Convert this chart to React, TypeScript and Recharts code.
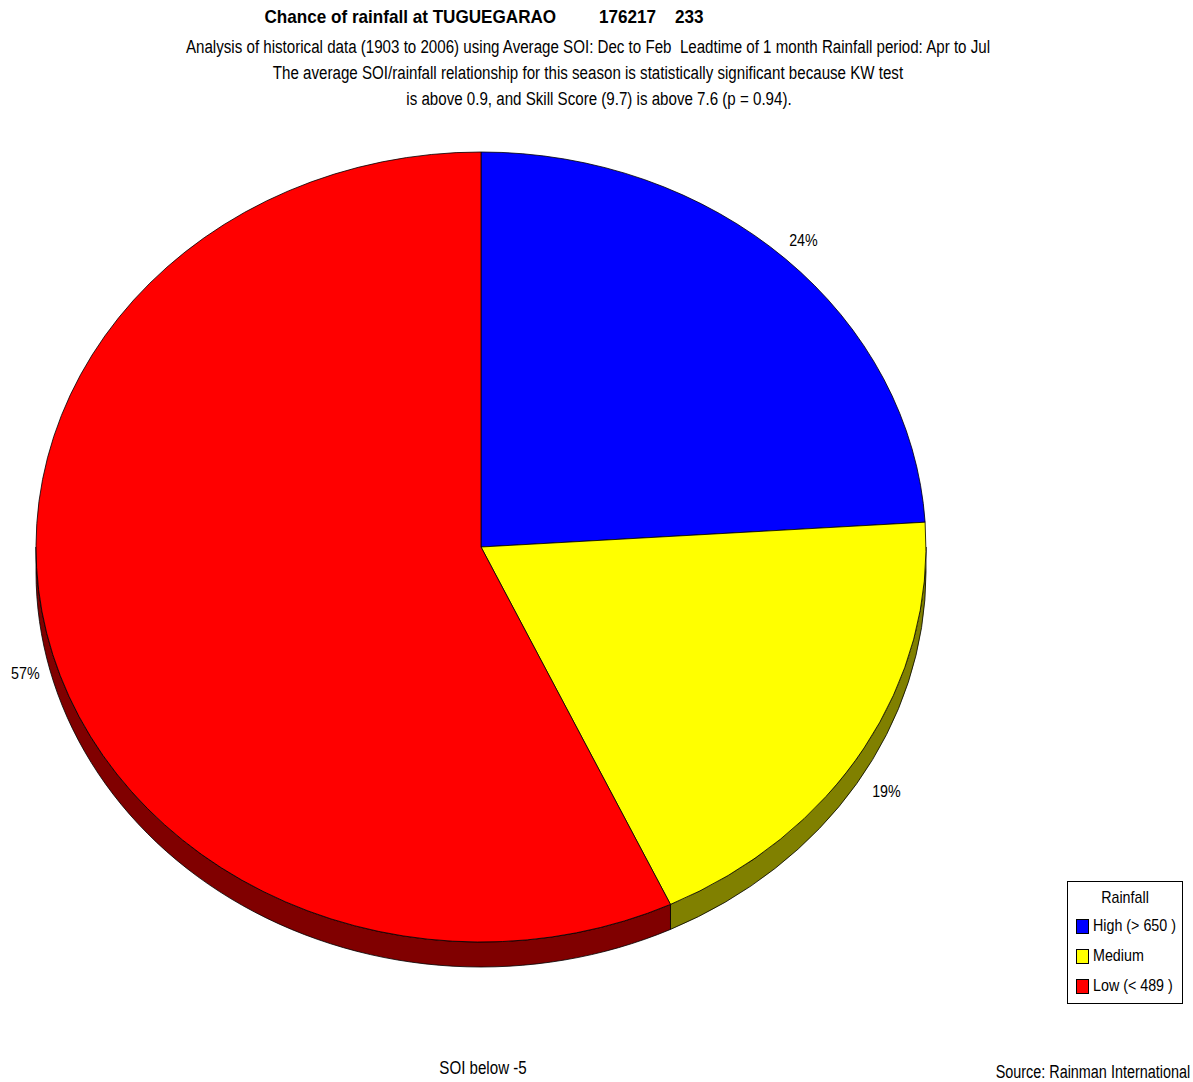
import { PieChart, Pie, Cell, Legend } from "recharts";

const categories = ["High (> 650 )", "Medium", "Low (< 489 )"];
const chances = [24, 19, 57];
const faceColors = ["#0000ff", "#ffff00", "#ff0000"];
const sideColors = ["#000080", "#808000", "#800000"];

const titleLine = "Chance of rainfall at TUGUEGARAO\u00a0\u00a0\u00a0\u00a0\u00a0\u00a0\u00a0\u00a0\u00a0176217\u00a0\u00a0\u00a0\u00a0233";
const subtitleLines = [
  "Analysis of historical data (1903 to 2006) using Average SOI: Dec to Feb  Leadtime of 1 month Rainfall period: Apr to Jul",
  "The average SOI/rainfall relationship for this season is statistically significant because KW test",
  "is above 0.9, and Skill Score (9.7) is above 7.6 (p = 0.94).",
];

const data = categories.map((name, i) => ({ name, value: chances[i] }));

const W = 1193;
const H = 1082;
const CX = 481;
const CY = 547;
const RY = 395;
const RX = 445;
const DEPTH = 25;
const FONT = "'Liberation Sans', Arial, sans-serif";
const NARROW = 0.84; // squeeze Liberation Sans towards Arial Narrow

const rad = (a: number) => (a * Math.PI) / 180;
const pt = (cx: number, cy: number, a: number) => [cx + RX * Math.cos(rad(a)), cy - RY * Math.sin(rad(a))];

// flat elliptical slice
function FaceSector(props: any) {
  const { cx, cy, startAngle, endAngle, fill } = props;
  const [x1, y1] = pt(cx, cy, startAngle);
  const [x2, y2] = pt(cx, cy, endAngle);
  const large = Math.abs(endAngle - startAngle) > 180 ? 1 : 0;
  const d = `M${cx},${cy} L${x1},${y1} A${RX},${RY} 0 ${large} 1 ${x2},${y2} Z`;
  return <path d={d} fill={fill} stroke="#000" strokeWidth={0.8} />;
}

// wall of the slice, only the part on the front (lower) half
function SideSector(props: any) {
  const { cx, cy, startAngle, endAngle, fill } = props;
  const a1 = Math.min(startAngle, 0);
  const a2 = Math.max(endAngle, -180);
  if (a1 <= a2) return <g />;
  const [x1, y1] = pt(cx, cy, a1);
  const [x2, y2] = pt(cx, cy, a2);
  const large = a1 - a2 > 180 ? 1 : 0;
  const d = `M${x1},${y1} A${RX},${RY} 0 ${large} 1 ${x2},${y2} L${x2},${y2 + DEPTH} A${RX},${RY} 0 ${large} 0 ${x1},${y1 + DEPTH} Z`;
  return <path d={d} fill={fill} stroke="#000" strokeWidth={0.8} />;
}

function SliceLabel(props: any) {
  const { cx, cy, midAngle, value } = props;
  const s = Math.sin(rad(midAngle));
  const c = Math.cos(rad(midAngle));
  const x = cx + (RX + 26) * c + (c < -0.9 ? 4 : 0);
  const y = cy - (RY + 26) * s + (s < 0 ? 30 : 0) + (c < -0.9 ? 4 : 0);
  return (
    <g transform={`translate(${x},${y}) scale(${NARROW},1)`}>
      <text x={0} y={0} textAnchor="middle" dominantBaseline="central" fontFamily={FONT} fontSize={17} fill="#000">
        {`${value}%`}
      </text>
    </g>
  );
}

function Narrow({ children, style, k = NARROW }: { children: any; style: any; k?: number }) {
  return (
    <div style={{ position: "absolute", whiteSpace: "pre", transform: `scaleX(${k})`, ...style }}>{children}</div>
  );
}

function RainLegend() {
  return (
    <div
      style={{
        border: "1px solid #000",
        width: 116,
        height: 123,
        background: "#fff",
        fontFamily: FONT,
        fontSize: 17,
        color: "#000",
        boxSizing: "border-box",
        padding: "5px 0 0 8px",
        whiteSpace: "nowrap",
      }}
    >
      <div style={{ textAlign: "center", marginLeft: -8, height: 24, lineHeight: "22px", transform: `scaleX(${NARROW})` }}>Rainfall</div>
      {categories.map((c, i) => (
        <div key={c} style={{ display: "flex", alignItems: "center", height: 30 }}>
          <span
            style={{
              display: "inline-block",
              width: 11,
              height: 13,
              background: faceColors[i],
              border: "1px solid #000",
              marginRight: 4,
              flex: "none",
            }}
          />
          <span style={{ display: "inline-block", transform: `scaleX(${NARROW})`, transformOrigin: "left center" }}>{c}</span>
        </div>
      ))}
    </div>
  );
}

export default function App() {
  return (
    <div style={{ position: "absolute", left: 0, top: 0, width: W, height: H, background: "#fff", fontFamily: FONT, color: "#000" }}>
      <Narrow k={0.9} style={{ top: 6, left: 0, width: 968, textAlign: "center", fontWeight: "bold", fontSize: 19 }}>{titleLine}</Narrow>
      {subtitleLines.map((l, i) => (
        <Narrow key={i} style={{ top: 37 + i * 26, left: i === 2 ? 11 : 0, width: 1176, textAlign: "center", fontSize: 18 }}>
          {l}
        </Narrow>
      ))}
      <PieChart width={W} height={H} margin={{ top: 0, right: 0, bottom: 0, left: 0 }} style={{ position: "absolute", left: 0, top: 0 }}>
        <Pie
          data={data}
          dataKey="value"
          cx={CX}
          cy={CY}
          outerRadius={RY}
          startAngle={90}
          endAngle={-270}
          isAnimationActive={false}
          shape={SideSector}
          stroke="none"
        >
          {data.map((d, i) => (
            <Cell key={d.name} fill={sideColors[i]} />
          ))}
        </Pie>
        <Pie
          data={data}
          dataKey="value"
          cx={CX}
          cy={CY}
          outerRadius={RY}
          startAngle={90}
          endAngle={-270}
          isAnimationActive={false}
          shape={FaceSector}
          label={SliceLabel}
          labelLine={false}
        >
          {data.map((d, i) => (
            <Cell key={d.name} fill={faceColors[i]} />
          ))}
        </Pie>
        <Legend content={RainLegend} wrapperStyle={{ position: "absolute", left: 1067, top: 881, width: 116 }} />
      </PieChart>
      <Narrow style={{ top: 1058, left: 383, width: 200, textAlign: "center", fontSize: 18 }}>SOI below -5</Narrow>
      <Narrow k={0.8} style={{ top: 1062, right: 3, fontSize: 18, transformOrigin: "right center" }}>Source: Rainman International</Narrow>
    </div>
  );
}
